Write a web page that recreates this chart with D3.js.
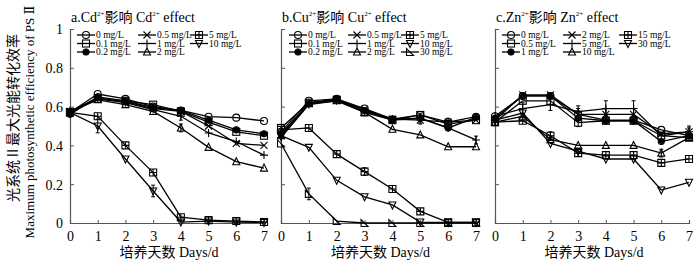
<!DOCTYPE html>
<html><head><meta charset="utf-8">
<script src="https://cdnjs.cloudflare.com/ajax/libs/d3/7.8.5/d3.min.js"></script>
<style>
body{margin:0;background:#fff;}
svg{display:block;}
text{font-family:"Liberation Serif","Times New Roman","DejaVu Serif","Noto Sans CJK SC",serif;fill:#000;}
</style></head><body>
<svg id="chart" width="700" height="262"></svg>
<script>
const days = [0,1,2,3,4,5,6,7];
const yTicks = [0,0.2,0.4,0.6,0.8,1];
const yTickLabels = ["0","0.2","0.4","0.6","0.8","1"];
const xTickLabels = ["0","1","2","3","4","5","6","7"];

// Panel a: Cd
const cdLabels = ["0 mg/L","0.1 mg/L","0.2 mg/L","0.5 mg/L","1 mg/L","2 mg/L","5 mg/L","10 mg/L"];
const cdMarkers = ["circle","square","diamond","x","plus","triUp","sqPlus","triDown"];
const cd_0   = [0.57,0.665,0.64,0.60,0.58,0.548,0.543,0.526];
const cd_01  = [0.57,0.64,0.63,0.61,0.575,0.52,0.47,0.45];
const cd_02  = [0.56,0.65,0.63,0.595,0.58,0.53,0.48,0.46];
const cd_05  = [0.575,0.645,0.625,0.59,0.575,0.50,0.41,0.40];
const cd_1   = [0.57,0.64,0.62,0.585,0.55,0.464,0.42,0.35];
const cd_2   = [0.575,0.635,0.61,0.575,0.49,0.39,0.316,0.283];
const cd_5   = [0.57,0.55,0.40,0.26,0.03,0.015,0.01,0.005];
const cd_10  = [0.57,0.50,0.33,0.165,0.005,0.01,0.005,0.003];
const cdErr  = [[0,0,0,0,0,0,0,0],[0,0,0,0,0,0,0,0],[0,0,0,0,0,0,0,0],[0,0,0,0,0,0,0,0],
                [0,0,0,0,0.02,0,0,0],[0,0,0,0,0.02,0,0,0],[0,0,0,0,0,0,0,0],[0,0.035,0,0.03,0,0,0,0]];

// Panel b: Cu
const cuLabels = ["0 mg/L","0.1 mg/L","0.2 mg/L","0.5 mg/L","1 mg/L","2 mg/L","5 mg/L","10 mg/L","30 mg/L"];
const cuMarkers = ["circle","square","diamond","x","plus","triUp","sqPlus","triDown","rightTri"];
const cu_0   = [0.47,0.63,0.64,0.59,0.535,0.557,0.52,0.548];
const cu_01  = [0.49,0.62,0.635,0.57,0.53,0.557,0.51,0.53];
const cu_02  = [0.46,0.615,0.64,0.58,0.53,0.54,0.49,0.545];
const cu_05  = [0.45,0.62,0.635,0.585,0.535,0.53,0.52,0.53];
const cu_1   = [0.44,0.61,0.63,0.575,0.535,0.54,0.49,0.428];
const cu_2   = [0.45,0.615,0.63,0.57,0.483,0.454,0.393,0.393];
const cu_5   = [0.48,0.49,0.355,0.265,0.175,0.06,0.003,0.003];
const cu_10  = [0.45,0.39,0.22,0.135,0.093,0.005,0.003,0.003];
const cu_30  = [0.41,0.15,0.01,0.0,0.0,0.0,0.0,0.0];
const cuErr  = [[0,0,0,0,0,0,0,0],[0,0,0,0,0,0,0,0],[0,0,0,0,0,0,0,0],[0,0,0,0,0,0.02,0.02,0],
                [0,0,0,0,0,0.025,0,0.02],[0,0,0,0,0,0,0,0],[0,0,0,0.02,0,0,0,0],[0,0,0,0,0,0,0,0],[0,0.03,0,0,0,0,0,0]];

// Panel c: Zn
const znLabels = ["0 mg/L","0.5 mg/L","1 mg/L","2 mg/L","5 mg/L","10 mg/L","15 mg/L","30 mg/L"];
const znMarkers = ["circle","square","diamond","x","plus","triUp","sqPlus","triDown"];
const zn_0   = [0.55,0.655,0.655,0.56,0.53,0.53,0.48,0.45];
const zn_05  = [0.52,0.63,0.63,0.517,0.527,0.527,0.45,0.44];
const zn_1   = [0.54,0.655,0.655,0.54,0.527,0.527,0.42,0.45];
const zn_2   = [0.53,0.66,0.66,0.56,0.56,0.56,0.46,0.47];
const zn_5   = [0.55,0.59,0.61,0.574,0.59,0.59,0.45,0.47];
const zn_10  = [0.52,0.55,0.43,0.40,0.40,0.40,0.36,0.44];
const zn_15  = [0.52,0.527,0.45,0.36,0.35,0.35,0.31,0.33];
const zn_30  = [0.53,0.567,0.41,0.37,0.33,0.33,0.17,0.21];
const znErr  = [[0,0,0,0,0,0,0,0],[0,0,0,0.02,0,0,0,0],[0,0,0,0,0,0,0,0],[0,0,0,0.03,0.03,0.03,0,0.02],
                [0,0.03,0.03,0.03,0.04,0.04,0,0.03],[0,0,0,0,0,0,0.02,0],[0,0,0.02,0,0,0,0,0],[0,0,0,0,0,0,0,0]];

const panels = [
  {title:["a.Cd","2+","影响 Cd","2+"," effect"], labels:cdLabels, markers:cdMarkers,
   values:[cd_0,cd_01,cd_02,cd_05,cd_1,cd_2,cd_5,cd_10], errs:cdErr, x0:70, x1:264, showY:true, legCols:[16,77,129]},
  {title:["b.Cu","2+","影响 Cu","2+"," effect"], labels:cuLabels, markers:cuMarkers,
   values:[cu_0,cu_01,cu_02,cu_05,cu_1,cu_2,cu_5,cu_10,cu_30], errs:cuErr, x0:281, x1:476, showY:false, legCols:[17,76,129]},
  {title:["c.Zn","2+","影响 Zn","2+"," effect"], labels:znLabels, markers:znMarkers,
   values:[zn_0,zn_05,zn_1,zn_2,zn_5,zn_10,zn_15,zn_30], errs:znErr, x0:495, x1:689, showY:false, legCols:[16,77,133]}
];

const svg = d3.select("#chart");
const y = d3.scaleLinear().domain([0,1]).range([223,29]);
const SERIF = "'Liberation Serif','Times New Roman','DejaVu Serif',serif";

function drawMarker(g, type){
  const s = 3.5;
  const st = {stroke:"#000","stroke-width":1.1};
  function ap(sel){ for(const k in st) sel.attr(k, st[k]); return sel; }
  switch(type){
    case "circle": ap(g.append("circle").attr("r",s).attr("fill","none")); break;
    case "square": ap(g.append("rect").attr("x",-s).attr("y",-s).attr("width",2*s).attr("height",2*s).attr("fill","none")); break;
    case "diamond":
      ap(g.append("circle").attr("r",3).attr("fill","none"));
      g.append("path").attr("d",`M0,${-s}L${s},0L0,${s}L${-s},0Z`).attr("fill","#000"); break;
    case "x": ap(g.append("path").attr("d",`M${-s},${-s}L${s},${s}M${-s},${s}L${s},${-s}`).attr("fill","none")); break;
    case "plus": ap(g.append("path").attr("d",`M${-s-0.5},0L${s+0.5},0M0,${-s-0.5}L0,${s+0.5}`).attr("fill","none")); break;
    case "triUp": ap(g.append("path").attr("d",`M0,${-s-0.5}L${s},${s-0.5}L${-s},${s-0.5}Z`).attr("fill","none")); break;
    case "triDown": ap(g.append("path").attr("d",`M0,${s+0.5}L${s},${-s+0.5}L${-s},${-s+0.5}Z`).attr("fill","none")); break;
    case "sqPlus": ap(g.append("path").attr("d",`M${-s},${-s}h${2*s}v${2*s}h${-2*s}ZM${-s},0H${s}M0,${-s}V${s}`).attr("fill","none")); break;
    case "rightTri": ap(g.append("path").attr("d",`M${-s},${-s}L${-s},${s}L${s},${s}Z`).attr("fill","none")); break;
  }
}

panels.forEach(p => {
  const x = d3.scaleLinear().domain([0,7]).range([p.x0,p.x1]);
  const g = svg.append("g");

  // axes
  const yAxis = d3.axisLeft(y).tickValues(yTicks).tickSize(-4).tickPadding(7)
      .tickFormat((d,i)=> p.showY ? yTickLabels[i] : "");
  const ya = g.append("g").attr("transform",`translate(${p.x0},0)`).call(yAxis);
  const xAxis = d3.axisBottom(x).tickValues(days).tickSize(-3).tickPadding(8)
      .tickFormat((d,i)=>xTickLabels[i]);
  const xa = g.append("g").attr("transform",`translate(0,${y(0)})`).call(xAxis);
  [ya,xa].forEach(a=>{
    a.attr("font-family",null);
    a.select(".domain").attr("stroke","#555").attr("stroke-width",1.2);
    a.selectAll(".tick line").attr("stroke","#555").attr("stroke-width",1);
    a.selectAll("text").attr("font-size",14).style("font-family",SERIF);
  });
  ya.selectAll(".tick text").attr("dy","0.35em");

  // title
  const t = g.append("text").attr("x",p.x0+1).attr("y",22).attr("font-size",14);
  p.title.forEach((part,i)=>{
    if(part==="2+") t.append("tspan").attr("font-size",7).attr("dy",-6).text(part);
    else {
      const ts = t.append("tspan").text(part);
      if(i>0) ts.attr("dy",6);
    }
  });

  // x label
  g.append("text").attr("x",(p.x0+p.x1)/2+2).attr("y",257).attr("text-anchor","middle")
    .attr("font-size",14).text("培养天数 Days/d");

  // series
  const line = d3.line().x((d,i)=>x(days[i])).y(d=>y(d));
  p.values.forEach((vals,si)=>{
    g.append("path").datum(vals).attr("d",line).attr("fill","none")
      .attr("stroke","#000").attr("stroke-width",1.3);
  });
  p.values.forEach((vals,si)=>{
    vals.forEach((v,i)=>{
      const e = p.errs[si][i];
      if(e>0){
        g.append("path").attr("d",`M${x(days[i])},${y(v-e)}V${y(v+e)}M${x(days[i])-2},${y(v-e)}h4M${x(days[i])-2},${y(v+e)}h4`)
          .attr("stroke","#000").attr("stroke-width",1).attr("fill","none");
      }
      const mg = g.append("g").attr("transform",`translate(${x(days[i])},${y(v)})`);
      drawMarker(mg, p.markers[si]);
    });
  });

  // legend: column-major, 3 rows
  const rowsY = [35,43.5,52];
  p.labels.forEach((lab,i)=>{
    const col = Math.floor(i/3), row = i%3;
    const cx = p.x0 + p.legCols[col];
    const cy = rowsY[row];
    g.append("line").attr("x1",cx-9).attr("x2",cx+9).attr("y1",cy).attr("y2",cy)
      .attr("stroke","#000").attr("stroke-width",1.3);
    const mg = g.append("g").attr("transform",`translate(${cx},${cy})`);
    drawMarker(mg, p.markers[i]);
    g.append("text").attr("x",cx+10).attr("y",cy+3).attr("font-size",9.5).text(lab);
  });
});

// y axis title
const yt = svg.append("g").attr("transform","translate(0,118) rotate(-90)");
yt.append("text").attr("x",0).attr("y",18).attr("text-anchor","middle").attr("font-size",14)
  .style("font-family","'Noto Sans CJK SC', sans-serif").text("光系统Ⅱ最大光能转化效率");
yt.append("text").attr("x",-4).attr("y",34).attr("text-anchor","middle").attr("font-size",13)
  .text("Maximum photosynthetic efficiency of PS Ⅱ");
</script>
</body></html>
